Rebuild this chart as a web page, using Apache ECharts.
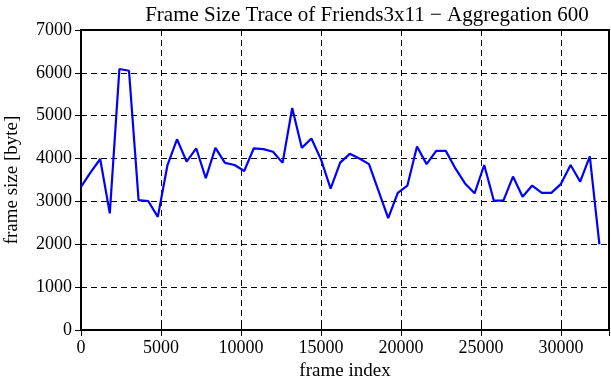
<!DOCTYPE html>
<html>
<head>
<meta charset="utf-8">
<script src="https://cdn.jsdelivr.net/npm/echarts@6/dist/echarts.min.js"></script>
<style>
html,body{margin:0;padding:0;background:#fff;}
#c{width:611px;height:380px;}
</style>
</head>
<body>
<div id="c"></div>
<script>
const frameIndex = [0,600,1200,1800,2400,3000,3600,4200,4800,5400,6000,6600,7200,7800,8400,9000,9600,10200,10800,11400,12000,12600,13200,13800,14400,15000,15600,16200,16800,17400,18000,18600,19200,19800,20400,21000,21600,22200,22800,23400,24000,24600,25200,25800,26400,27000,27600,28200,28800,29400,30000,30600,31200,31800,32400];
const frameSize = [3340,3680,3990,2720,6090,6050,3030,3010,2640,3840,4450,3930,4240,3540,4250,3900,3850,3710,4240,4220,4160,3900,5180,4250,4470,3980,3300,3905,4110,4000,3870,3240,2610,3200,3370,4280,3870,4180,4180,3770,3420,3190,3850,3020,3020,3580,3110,3370,3200,3200,3410,3850,3460,4050,2000];
const xTicks = [0,5000,10000,15000,20000,25000,30000];
const yTicks = [0,1000,2000,3000,4000,5000,6000,7000];
const titleText = 'Frame Size Trace of Friends3x11 \u2212 Aggregation 600';
const xName = 'frame index';
const yName = 'frame size [byte]';

const font = '"Liberation Serif", "DejaVu Serif", serif';
const chart = echarts.init(document.getElementById('c'), null, {renderer:'canvas'});
const dashed = {show:true, lineStyle:{color:'#000', type:[6,4], width:1}};
const tickIn = {show:true, inside:true, length:6, lineStyle:{color:'#000', width:1}};
chart.setOption({
  animation:false,
  backgroundColor:'#fff',
  title:{text:titleText, left:362, textAlign:'center', top:0,
    textStyle:{fontFamily:font, fontSize:21, fontWeight:'normal', color:'#000'}},
  grid:{left:81, right:2, top:30, bottom:50, containLabel:false, outerBoundsMode:'none',
    show:true, borderColor:'#000', borderWidth:2},
  xAxis:[{
    type:'value', min:0, max:33000, interval:5000, position:'bottom',
    name:xName, nameLocation:'middle', nameGap:32,
    nameTextStyle:{fontFamily:font, fontSize:19, color:'#000'},
    axisLine:{show:true, lineStyle:{color:'#000', width:2}},
    axisTick:tickIn,
    axisLabel:{fontFamily:font, fontSize:18, color:'#000', margin:9,
      formatter:v => xTicks.indexOf(v) >= 0 ? String(v) : ''},
    splitLine:dashed
  },{
    type:'value', min:0, max:33000, interval:5000, position:'top',
    axisLine:{show:true, lineStyle:{color:'#000', width:2}},
    axisTick:tickIn, axisLabel:{show:false}, splitLine:{show:false}
  }],
  yAxis:[{
    type:'value', min:0, max:7000, interval:1000, position:'left',
    name:yName, nameLocation:'middle', nameGap:59,
    nameTextStyle:{fontFamily:font, fontSize:19, color:'#000'},
    axisLine:{show:true, lineStyle:{color:'#000', width:2}},
    axisTick:tickIn,
    axisLabel:{fontFamily:font, fontSize:18, color:'#000', margin:9,
      formatter:v => yTicks.indexOf(v) >= 0 ? String(v) : ''},
    splitLine:dashed
  },{
    type:'value', min:0, max:7000, interval:1000, position:'right',
    axisLine:{show:true, lineStyle:{color:'#000', width:2}},
    axisTick:tickIn, axisLabel:{show:false}, splitLine:{show:false}
  }],
  series:[{
    type:'line',
    data:frameIndex.map((x,i)=>[x, frameSize[i]]),
    showSymbol:false, symbol:'none',
    lineStyle:{color:'#0000ff', width:2.2},
    xAxisIndex:0, yAxisIndex:0
  }]
});
</script>
</body>
</html>
